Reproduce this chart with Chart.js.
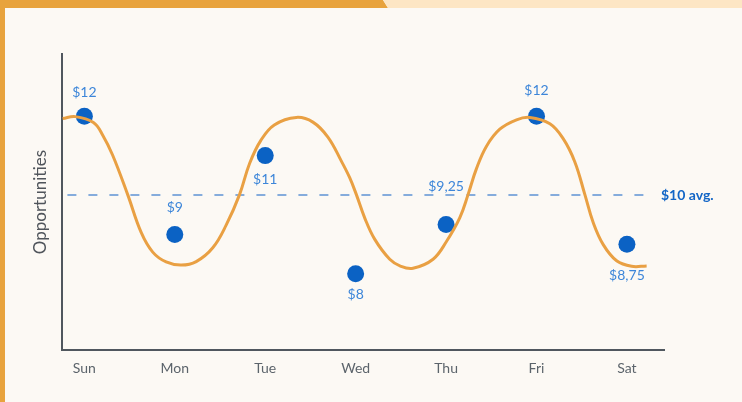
<!DOCTYPE html>
<html>
<head>
<meta charset="utf-8">
<script src="https://cdn.jsdelivr.net/npm/chart.js@4/dist/chart.umd.min.js"></script>
<style>
  html, body { margin: 0; padding: 0; background: #FCF9F4; }
  #wrap { position: relative; width: 742px; height: 402px; overflow: hidden; background: #FCF9F4; }
  #topA { position: absolute; left: 0; top: 0; width: 390px; height: 8px; background: #E8A33D; clip-path: polygon(0 0, 383px 0, 388px 8px, 0 8px); }
  #topB { position: absolute; left: 383px; top: 0; right: 0; height: 8px; background: #FDE6C4; clip-path: polygon(0 0, 100% 0, 100% 8px, 5px 8px); }
  #left { position: absolute; left: 0; top: 0; width: 5px; height: 402px; background: #E8A33D; }
  canvas { position: absolute; left: 0; top: 0; }
</style>
</head>
<body>
<div id="wrap">
  <div id="topA"></div>
  <div id="topB"></div>
  <div id="left"></div>
  <canvas id="c" width="742" height="402"></canvas>
</div>
<script>
// ---- data ----
const days = ["Sun", "Mon", "Tue", "Wed", "Thu", "Fri", "Sat"];
const opportunityValues = [12, 9, 11, 8, 9.25, 12, 8.75];
const pointLabels = ["$12", "$9", "$11", "$8", "$9,25", "$12", "$8,75"];
const averageValue = 10;
const averageLabel = "$10 avg.";
const yAxisTitle = "Opportunities";
// decorative wave (x in day units, y in $)
const waveX = [-0.240, -0.100, 0.100, 0.203, 0.313, 0.479, 0.628, 0.756, 0.904, 1.071, 1.237, 1.420, 1.569, 1.716, 1.827, 1.950, 2.100, 2.344, 2.527, 2.693, 2.842, 2.934, 3.008, 3.100, 3.210, 3.377, 3.500, 3.634, 3.856, 4.004, 4.151, 4.243, 4.336, 4.447, 4.594, 4.779, 4.926, 5.148, 5.295, 5.424, 5.535, 5.627, 5.738, 5.886, 6.052, 6.218];
const waveY = [11.94, 11.99, 11.84, 11.52, 11.01, 10.01, 9.05, 8.55, 8.30, 8.22, 8.31, 8.66, 9.24, 10.01, 10.80, 11.38, 11.78, 11.97, 11.85, 11.47, 10.86, 10.44, 10.01, 9.42, 8.88, 8.37, 8.19, 8.14, 8.37, 8.82, 9.42, 10.01, 10.67, 11.24, 11.67, 11.91, 11.97, 11.81, 11.43, 10.84, 10.01, 9.30, 8.74, 8.33, 8.19, 8.20];

// ---- styles ----
const labelOffsets = [-24, -27, 24, 21, -38, -26, 31];
const FONT = "Lato, 'Open Sans', sans-serif";

const points = days.map((d, i) => ({ x: i, y: opportunityValues[i] }));
const wave = waveX.map((x, i) => ({ x: x, y: waveY[i] }));

const overlay = {
  id: 'overlay',
  beforeDatasetsDraw(chart) {
    const ctx = chart.ctx;
    const y = chart.scales.y.getPixelForValue(averageValue);
    const a = chart.chartArea;
    ctx.save();
    ctx.strokeStyle = '#5E93D3';
    ctx.lineWidth = 1.5;
    ctx.setLineDash([9, 12]);
    ctx.beginPath();
    ctx.moveTo(a.left + 5, y);
    ctx.lineTo(a.right - 16, y);
    ctx.stroke();
    ctx.setLineDash([]);
    ctx.fillStyle = '#1366C6';
    ctx.font = "bold 14px " + FONT;
    ctx.textAlign = 'left';
    ctx.textBaseline = 'middle';
    ctx.fillText(averageLabel, a.right - 3, y + 0.5);
    ctx.restore();
  },
  afterDatasetsDraw(chart) {
    const ctx = chart.ctx;
    const meta = chart.getDatasetMeta(1);
    ctx.save();
    ctx.fillStyle = '#3D86D9';
    ctx.font = "14px " + FONT;
    ctx.textAlign = 'center';
    ctx.textBaseline = 'middle';
    meta.data.forEach((el, i) => {
      ctx.fillText(pointLabels[i], el.x, el.y + labelOffsets[i]);
    });
    ctx.restore();
  }
};

new Chart(document.getElementById('c'), {
  type: 'scatter',
  data: {
    datasets: [
      {
        type: 'line',
        data: wave,
        borderColor: '#E9A043',
        borderWidth: 3,
        pointRadius: 0,
        fill: false,
        tension: 0.4,
        clip: false
      },
      {
        data: points,
        backgroundColor: '#0B62C4',
        borderColor: '#0B62C4',
        pointRadius: 8.5,
        pointHoverRadius: 8.5,
        borderWidth: 0
      }
    ]
  },
  options: {
    responsive: false,
    animation: false,
    devicePixelRatio: 1,
    layout: { padding: { left: 30, top: 54, right: 78, bottom: 15 } },
    plugins: { legend: { display: false }, tooltip: { enabled: false } },
    scales: {
      x: {
        type: 'linear',
        min: -0.243,
        max: 6.41,
        grid: { display: false, drawTicks: false },
        border: { display: true, color: '#50575E', width: 2 },
        ticks: {
          stepSize: 1,
          includeBounds: false,
          autoSkip: false,
          maxRotation: 0,
          padding: 10,
          color: '#5C646B',
          font: { family: FONT, size: 14 },
          callback: (v) => Number.isInteger(v) && days[v] !== undefined ? days[v] : ''
        }
      },
      y: {
        min: 6.06,
        max: 13.58,
        grid: { display: false, drawTicks: false },
        border: { display: true, color: '#50575E', width: 2 },
        ticks: { display: false },
        title: {
          display: true,
          text: yAxisTitle,
          color: '#50555B',
          font: { family: FONT, size: 17 },
          padding: { top: 0, bottom: 12 }
        }
      }
    }
  },
  plugins: [overlay]
});
</script>
</body>
</html>
